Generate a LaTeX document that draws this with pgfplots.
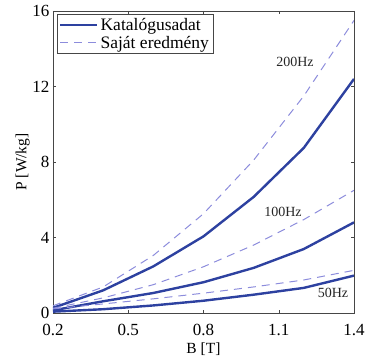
\documentclass[border=0pt]{standalone}
\usepackage{pgfplots}
\pgfplotsset{compat=1.18}
\usepackage{fontspec}
\setmainfont{Liberation Serif}
\definecolor{solidblue}{RGB}{45,65,160}
\definecolor{dashblue}{RGB}{140,140,220}
\definecolor{axgray}{RGB}{70,70,70}
\begin{document}
\begin{tikzpicture}
\path (-53pt,-41pt) rectangle (315pt,313pt);
\begin{axis}[
  scale only axis,
  width=301pt, height=302pt,
  xmin=0.2, xmax=1.4, ymin=0, ymax=16,
  xtick={0.2,0.5,0.8,1.1,1.4},
  ytick={0,4,8,12,16},
  xticklabels={0.2,0.5,0.8,1.1,1.4},
  yticklabels={0,4,8,12,16},
  /pgf/number format/assume math mode=true,
  tick pos=both, tick align=inside,
  major tick length=3pt,
  axis line style={axgray, line width=0.6pt},
  every tick/.style={axgray},
  tick label style={font=\fontsize{17}{17}\selectfont},
  xticklabel style={yshift=-8pt},
  yticklabel style={xshift=0pt},
  xlabel={B [T]}, ylabel={P [W/kg]},
  label style={font=\fontsize{15.5}{15.5}\selectfont},
  xlabel style={yshift=0pt},
  ylabel style={yshift=-4pt},
  legend cell align=left,
  legend style={at={(rel axis cs:0.013,0.99)}, anchor=north west,
    font=\fontsize{17.5}{19}\selectfont, draw=axgray, line width=0.6pt,
    inner sep=2pt, row sep=0pt},
  legend image code/.code={\draw[#1] (7pt,0pt) -- (44pt,0pt);},
]
\addplot[solidblue, line width=2.4pt] coordinates {(0.2,0.27) (0.4,1.2) (0.6,2.47) (0.8,4.06) (1.0,6.15) (1.2,8.75) (1.4,12.4)};
\addlegendentry{Katalógusadat}
\addplot[dashblue, line width=1pt, dash pattern=on 8pt off 6pt] coordinates {(0.2,0.38) (0.4,1.38) (0.6,3.05) (0.8,5.26) (1.0,8.1) (1.2,11.5) (1.4,15.5)};
\addlegendentry{Saját eredmény}
\addplot[solidblue, line width=2.4pt, forget plot] coordinates {(0.2,0.14) (0.4,0.62) (0.6,1.06) (0.8,1.63) (1.0,2.39) (1.2,3.39) (1.4,4.8)};
\addplot[dashblue, line width=1pt, dash pattern=on 8pt off 6pt, forget plot] coordinates {(0.2,0.25) (0.4,0.8) (0.6,1.5) (0.8,2.45) (1.0,3.6) (1.2,4.95) (1.4,6.5)};
\addplot[solidblue, line width=2.4pt, forget plot] coordinates {(0.2,0.07) (0.4,0.2) (0.6,0.4) (0.8,0.65) (1.0,0.97) (1.2,1.33) (1.4,1.98)};
\addplot[dashblue, line width=1pt, dash pattern=on 8pt off 6pt, forget plot] coordinates {(0.2,0.22) (0.4,0.48) (0.6,0.75) (0.8,1.05) (1.0,1.38) (1.2,1.75) (1.4,2.26)};
\node[font=\fontsize{14}{14}\selectfont, text=black!85] at (axis cs:1.165,13.3) {200Hz};
\node[font=\fontsize{14}{14}\selectfont, text=black!85] at (axis cs:1.117,5.34) {100Hz};
\node[font=\fontsize{14}{14}\selectfont, text=black!85] at (axis cs:1.316,1.06) {50Hz};
\end{axis}
\end{tikzpicture}
\end{document}
